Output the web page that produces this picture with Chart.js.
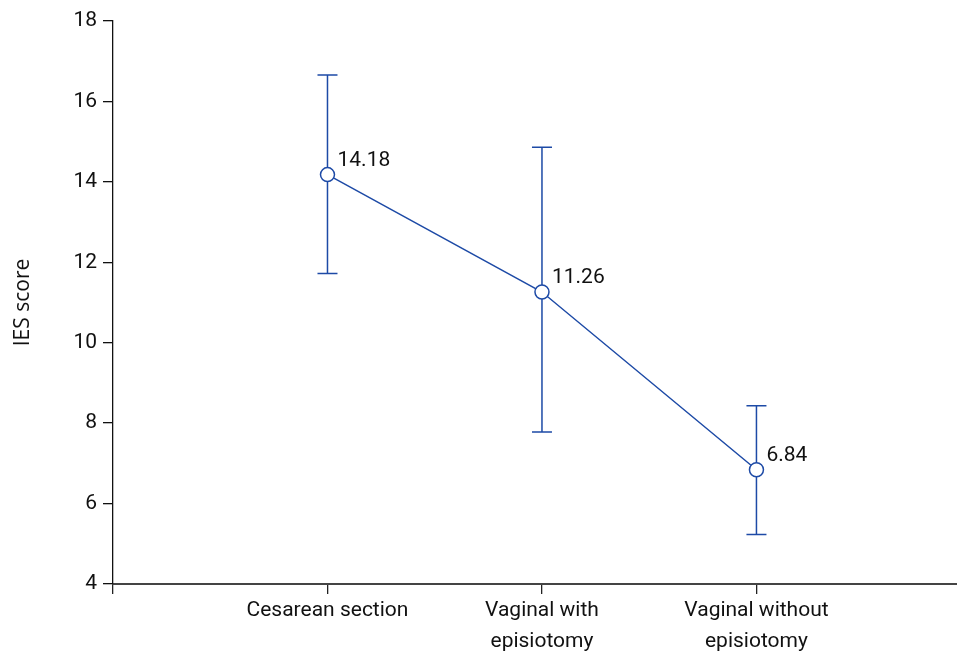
<!DOCTYPE html>
<html>
<head>
<meta charset="utf-8">
<script src="https://cdn.jsdelivr.net/npm/chart.js@4/dist/chart.umd.min.js"></script>
<style>
  html, body { margin: 0; padding: 0; background: #fff; }
  #wrap { width: 957px; height: 654px; }
</style>
</head>
<body>
<div id="wrap"><canvas id="ies-chart" width="957" height="654"></canvas></div>
<script>
// groups and IES scores
const categories = ["Cesarean section", ["Vaginal with", "episiotomy"], ["Vaginal without", "episiotomy"]];
const positions = [1, 2, 3];
const means = [14.18, 11.26, 6.84];
const upper = [16.66, 14.86, 8.43];
const lower = [11.72, 7.78, 5.23];
const yTicks = [4, 6, 8, 10, 12, 14, 16, 18];

const blue = "#1d4aa6";
const tickFont = { family: "Roboto, sans-serif", size: 21 };

const errorBars = {
    id: "errorBars",
    beforeDatasetsDraw(chart) {
        const ctx = chart.ctx;
        const x = chart.scales.x;
        const y = chart.scales.y;
        ctx.save();
        ctx.strokeStyle = blue;
        ctx.lineWidth = 1.5;
        positions.forEach((p, i) => {
            const px = x.getPixelForValue(p);
            const top = y.getPixelForValue(upper[i]);
            const bot = y.getPixelForValue(lower[i]);
            ctx.beginPath();
            ctx.moveTo(px, top);
            ctx.lineTo(px, bot);
            ctx.moveTo(px - 10, top);
            ctx.lineTo(px + 10, top);
            ctx.moveTo(px - 10, bot);
            ctx.lineTo(px + 10, bot);
            ctx.stroke();
        });
        ctx.restore();
    }
};

const valueLabels = {
    id: "valueLabels",
    afterDatasetsDraw(chart) {
        const ctx = chart.ctx;
        const meta = chart.getDatasetMeta(0);
        ctx.save();
        ctx.fillStyle = "#111";
        ctx.font = "21px " + tickFont.family;
        ctx.textBaseline = "middle";
        meta.data.forEach((pt, i) => {
            ctx.fillText(means[i].toFixed(2), pt.x + 10, pt.y - 14);
        });
        ctx.restore();
    }
};

new Chart(document.getElementById("ies-chart"), {
    type: "line",
    data: {
        datasets: [{
            data: positions.map((p, i) => ({ x: p, y: means[i] })),
            borderColor: blue,
            borderWidth: 1.5,
            pointRadius: 7,
            pointHoverRadius: 7,
            pointBackgroundColor: "#fff",
            pointBorderColor: blue,
            pointBorderWidth: 1.5,
            tension: 0
        }]
    },
    options: {
        responsive: false,
        animation: false,
        layout: { autoPadding: false, padding: { top: 21, right: 0, left: 0, bottom: 0 } },
        plugins: {
            legend: { display: false },
            tooltip: { enabled: false }
        },
        scales: {
            x: {
                type: "linear",
                min: 0,
                max: 3.935,
                afterBuildTicks: s => { s.ticks = [0, 1, 2, 3].map(v => ({ value: v })); },
                afterFit: s => { s.height = 70; s.paddingRight = 0; s.paddingLeft = 0; },
                border: { display: true, color: "#444", width: 2 },
                grid: { display: true, drawOnChartArea: false, drawTicks: true, tickLength: 10, color: "#222", lineWidth: 1.3 },
                ticks: {
                    maxRotation: 0,
                    autoSkip: false,
                    padding: 2,
                    color: "#111",
                    font: Object.assign({ lineHeight: 1.45 }, tickFont),
                    callback: v => v >= 1 ? categories[v - 1] : ""
                }
            },
            y: {
                min: 4,
                max: 18,
                afterBuildTicks: s => { s.ticks = yTicks.map(v => ({ value: v })); },
                afterFit: s => { s.width = 113; },
                border: { display: true, color: "#111", width: 1.3 },
                grid: { display: true, drawOnChartArea: false, drawTicks: true, tickLength: 10, color: "#111", lineWidth: 1.3 },
                ticks: {
                    padding: 6,
                    color: "#111",
                    font: tickFont
                },
                title: {
                    display: true,
                    text: "IES score",
                    color: "#111",
                    padding: { top: 10, bottom: 0 },
                    font: { family: "'Open Sans', sans-serif", size: 21 }
                }
            }
        }
    },
    plugins: [errorBars, valueLabels]
});
</script>
</body>
</html>
